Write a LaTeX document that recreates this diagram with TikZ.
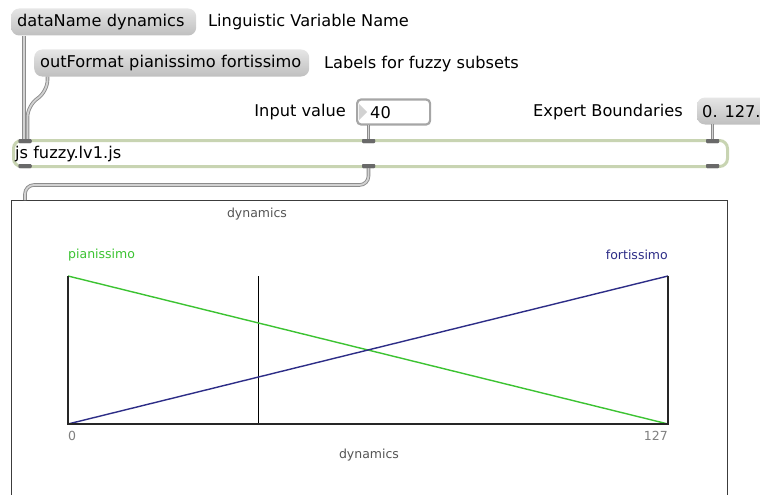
\documentclass[tikz,border=0pt]{standalone}
\usepackage{fontspec}
\setmainfont{DejaVu Sans}
\begin{document}
\definecolor{cordedge}{RGB}{140,140,140}
\definecolor{cordfill}{RGB}{210,210,210}
\definecolor{jsborder}{RGB}{200,212,178}
\definecolor{portgray}{RGB}{105,105,105}
\definecolor{piangreen}{RGB}{60,195,50}
\definecolor{fortnavy}{RGB}{45,45,135}
\definecolor{labelgray}{RGB}{85,85,85}
\definecolor{framegray}{RGB}{60,60,60}
\begin{tikzpicture}[x=1pt,y=-1pt,
  big/.style={font=\fontsize{16.2}{19}\selectfont},
  small/.style={font=\fontsize{12.5}{14}\selectfont},
  msgfill/.style={rounded corners=8pt, top color=gray!20, bottom color=gray!50},
  msg/.style={big, msgfill,
    anchor=west, inner xsep=6pt, inner ysep=0pt, minimum height=27pt,
    text height=12pt, text depth=3.5pt, align=left},
  note/.style={big, anchor=west, inner sep=0pt},
  port/.style={fill=portgray, rounded corners=1pt, minimum width=13pt, minimum height=4pt, inner sep=0pt},
  cord/.style={draw=cordedge, line width=0.9pt, double=cordfill, double distance=1.8pt, rounded corners=9pt},
  plotline/.style={line width=1.4pt},
  plotlabel/.style={small, inner sep=0pt}]
\useasboundingbox (0,0) rectangle (760,495);
\clip (0,0) rectangle (760,495);

% message boxes and comments
\node[msg, text width=173pt] (dn) at (11,22) {dataName dynamics};
\node[note] (dnc) at (208,22) {Linguistic Variable Name};
\node[msg, text width=263pt] (of) at (34,63) {outFormat pianissimo fortissimo};
\node[note] (ofc) at (324,64) {Labels for fuzzy subsets};
\node[note, anchor=east] (ivc) at (346,112) {Input value};
\node[note] (ebc) at (533,112) {Expert Boundaries};
% boundary message box runs on past the right edge
\path[msgfill] (697,97.5) rectangle (790,124.5);
\node[note] (bnd) at (702,111.5) {0. 127.};

% number box
\node[draw=gray!70, line width=2.2pt, rounded corners=4pt, fill=white,
  minimum width=73pt, minimum height=25pt, anchor=west] (num) at (356,112) {};
\fill[gray!35] (359,104) -- (367,112) -- (359,120) -- cycle;
\node[note] (numval) at (370,113) {40};

% js object
\node[draw=jsborder, line width=3pt, rounded corners=8pt, fill=white,
  minimum width=714pt, minimum height=26pt, anchor=west, inner sep=0pt] (js) at (12,153.5) {};
\node[note] (jstext) at (15,154) {js fuzzy.lv1.js};
\node[port] (in1) at (25,141) {};
\node[port] (in2) at (368.5,141) {};
\node[port] (in3) at (712.5,141) {};
\node[port] (out1) at (25,166) {};
\node[port] (out2) at (368.5,166) {};
\node[port] (out3) at (712.5,166) {};

% plot panel
\node[draw=framegray, line width=1pt, fill=white, anchor=north west,
  minimum width=716pt, minimum height=320pt, inner sep=0pt] (panel) at (11,200) {};
\coordinate (panelIn) at (25,200);

% patch cords
\coordinate (dnOut) at (24,36);
\coordinate (ofOut) at (47.5,76.5);
\coordinate (numOut) at (368.5,125);
\coordinate (bndOut) at (712.5,124);
\draw[cord, rounded corners=0pt] (dnOut) -- (in1.north -| dnOut);
\draw[cord, rounded corners=12pt] (ofOut) -- (47.5,92) -- (27.5,105) -- (in1.north -| 27.5,0);
\draw[cord] (numOut) -- (in2.north);
\draw[cord] (bndOut) -- (in3.north);
\draw[cord] (out2.south) -- (368.5,185) -- (25,185) -- (panelIn);
\node[port] at (in1) {};
\node[port] at (in2) {};
\node[port] at (in3) {};
\node[port] at (out1) {};
\node[port] at (out2) {};
\node[port] at (out3) {};

% membership chart
\coordinate (bl) at (68,424);
\coordinate (br) at (668,424);
\coordinate (tl) at (68,276);
\coordinate (tr) at (668,276);
\draw[line width=1pt] (258,276) -- (258,424);
\draw[piangreen, plotline] (tl) -- (br);
\draw[fortnavy, plotline] (bl) -- (tr);
\draw[black!85, line width=1.5pt] (tl) -- (bl) -- (br) -- (tr);
\node[plotlabel, text=labelgray] (ttl) at (257,214) {dynamics};
\node[plotlabel, text=piangreen, anchor=west] (pl) at (68,255) {pianissimo};
\node[plotlabel, text=fortnavy, anchor=east] (fl) at (668,255) {fortissimo};
\node[plotlabel, text=gray, anchor=west] (lo) at (68,436) {0};
\node[plotlabel, text=gray, anchor=east] (hi) at (668,436) {127};
\node[plotlabel, text=labelgray] (xl) at (369,455) {dynamics};
\end{tikzpicture}
\end{document}
